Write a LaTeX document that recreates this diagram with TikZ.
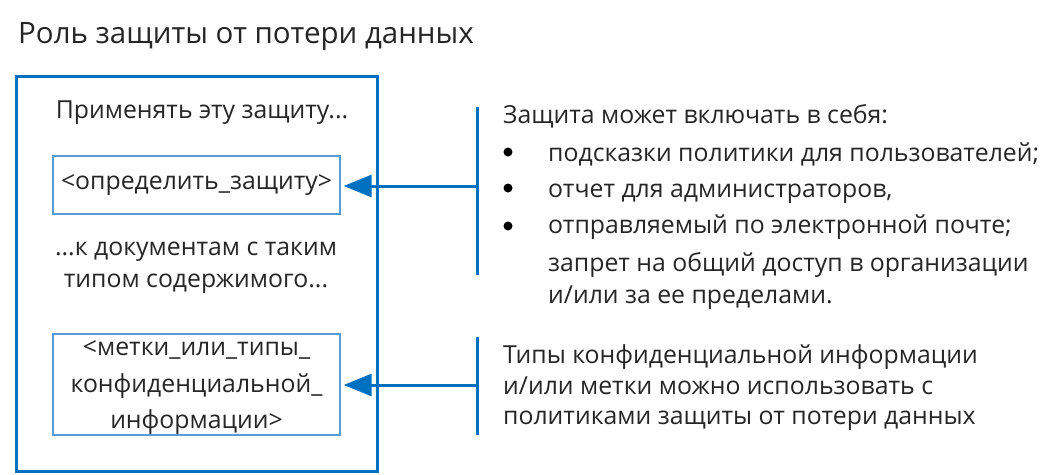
\documentclass[tikz,border=0pt]{standalone}
\usepackage{fontspec}
\setmainfont{Open Sans}
\usetikzlibrary{arrows.meta}

\definecolor{dlpblue}{RGB}{0,112,192}
\definecolor{slotblue}{RGB}{91,155,213}
\definecolor{ink}{RGB}{38,38,38}

\begin{document}
\begin{tikzpicture}[x=1pt,y=-1pt,
  txt/.style={inner sep=0pt, text=ink, font=\fontsize{24.8}{31}\selectfont},
  heading/.style={inner sep=0pt, text=ink, font=\fontsize{29.5}{34}\selectfont},
  slot/.style={draw=slotblue, line width=1.3pt, inner sep=0pt,
    minimum width=287pt, text=ink, font=\fontsize{24.8}{30.5}\selectfont, align=center},
  frame/.style={draw=dlpblue, line width=3pt},
  bar/.style={draw=dlpblue, line width=3pt},
  feed/.style={draw=dlpblue, line width=3pt,
    -{Triangle[length=28pt,width=22pt]}, shorten >=3pt},
  dot/.style={circle, fill=black, inner sep=0pt, minimum size=9pt}]
\useasboundingbox (0,0) rectangle (1044,474);

% title
\node[heading, anchor=base west] (title) at (18,43) {Роль защиты от потери данных};

% rule frame
\draw[frame] (16,76) rectangle (377,471);
\node[txt, anchor=base] (apply) at (202,118) {Применять эту защиту...};
\node[slot, minimum height=58pt] (action) at (196.5,185) {<определить\_защиту>};
\node[txt, anchor=base] (to1) at (196,255) {...к документам с таким};
\node[txt, anchor=base] (to2) at (196,287) {типом содержимого...};
\node[slot, minimum height=101pt, text depth=-6pt] (content) at (196.5,384.5)
  {<метки\_или\_типы\_\\[6pt]конфиденциальной\_\\[6pt]информации>};

% side bars
\coordinate (b1top) at (477,107);
\coordinate (b1bot) at (477,275);
\coordinate (b1mid) at (477,186);
\coordinate (b2top) at (477,337);
\coordinate (b2bot) at (477,435);
\coordinate (b2mid) at (477,385);
\draw[bar] (b1top) -- (b1bot);
\draw[bar] (b2top) -- (b2bot);

% connectors
\draw[feed] (b1mid) -- (action.east |- b1mid);
\draw[feed] (b2mid) -- (content.east |- b2mid);

% protection options
\node[txt, anchor=base west] (opts) at (503,123) {Защита может включать в себя:};
\node[dot] (d1) at (508,152) {};
\node[dot] (d2) at (508,188) {};
\node[dot] (d3) at (508,226) {};
\node[txt, anchor=base west] (o1) at (548,161) {подсказки политики для пользователей;};
\node[txt, anchor=base west] (o2) at (548,197) {отчет для администраторов,};
\node[txt, anchor=base west] (o3) at (548,233) {отправляемый по электронной почте;};
\node[txt, anchor=base west] (o4) at (548,271) {запрет на общий доступ в организации};
\node[txt, anchor=base west] (o5) at (548,303) {и/или за ее пределами.};

% content note
\node[txt, anchor=base west] (n1) at (503,363) {Типы конфиденциальной информации};
\node[txt, anchor=base west] (n2) at (503,394) {и/или метки можно использовать с};
\node[txt, anchor=base west] (n3) at (503,424) {политиками защиты от потери данных};
\end{tikzpicture}
\end{document}
